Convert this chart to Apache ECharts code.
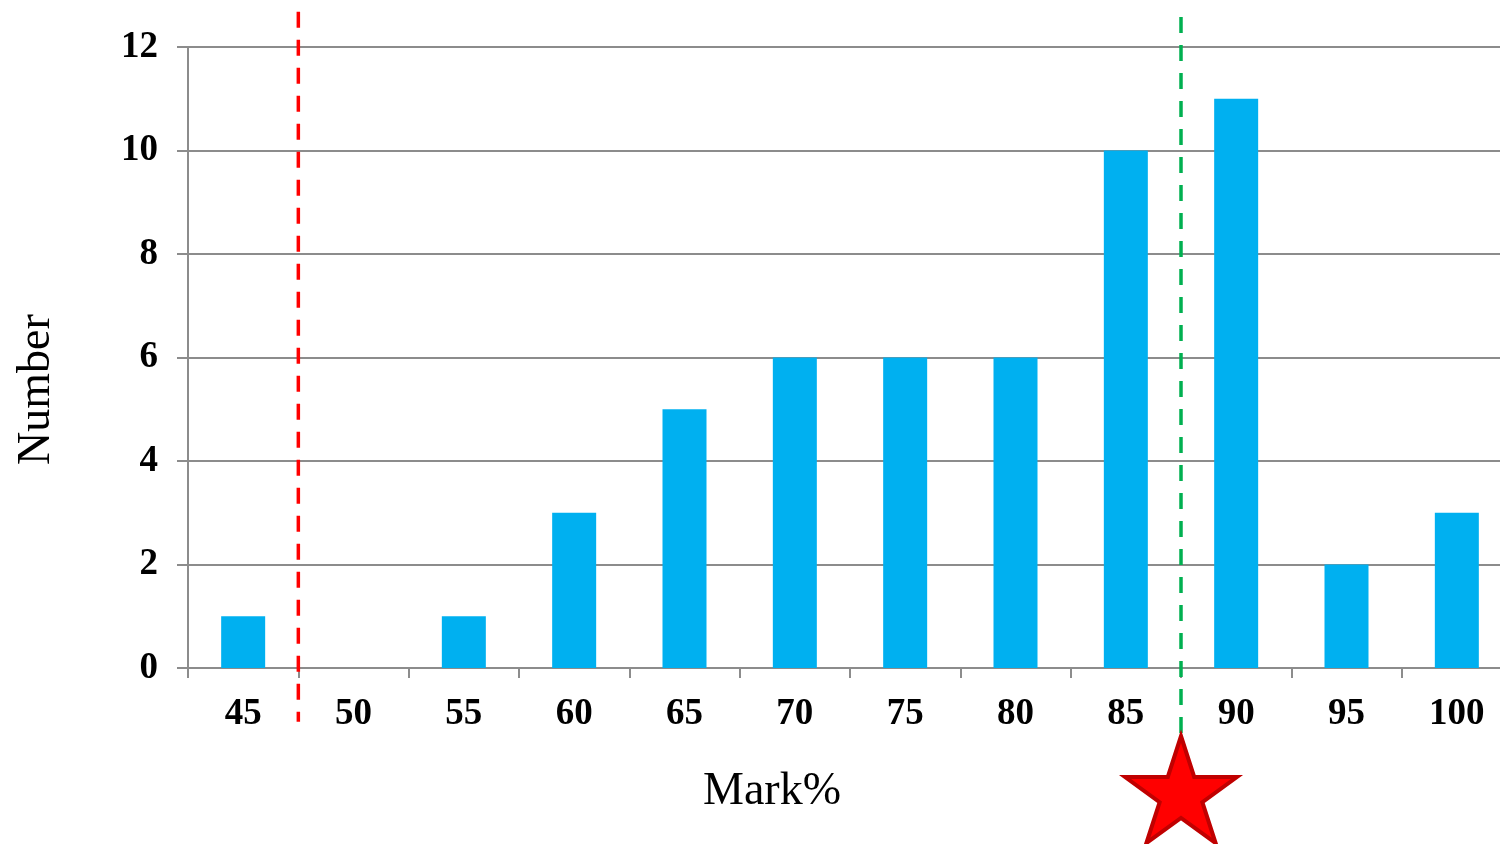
<!DOCTYPE html>
<html>
<head>
<meta charset="utf-8">
<script src="https://cdn.jsdelivr.net/npm/echarts@6/dist/echarts.min.js"></script>
<style>
  html, body { margin: 0; padding: 0; background: #fff; overflow: hidden; }
  #chart { width: 1500px; height: 844px; }
</style>
</head>
<body>
<div id="chart"></div>
<script>
// histogram of marks
const marks = ['45', '50', '55', '60', '65', '70', '75', '80', '85', '90', '95', '100'];
const counts = [1, 0, 1, 3, 5, 6, 6, 6, 10, 11, 2, 3];
const yTicks = [0, 2, 4, 6, 8, 10, 12];

// reference lines on a hidden value axis (category boundaries)
const redLine = [[47.5, 12.68], [47.5, -1.04]];
const greenLine = [[87.5, 12.58], [87.5, -1.29]];
const starPoint = [[87.5, -2.35]];

const STAR = 'path://M0,-1 L0.2245,-0.309 L0.951,-0.309 L0.363,0.118 L0.588,0.809 L0,0.382 L-0.588,0.809 L-0.363,0.118 L-0.951,-0.309 L-0.2245,-0.309 Z';
const FONT = '"Liberation Serif", "Times New Roman", serif';
const GRID_COLOR = '#8c8c8c';

const chart = echarts.init(document.getElementById('chart'));

chart.setOption({
  animation: false,
  // plot runs a little past the right edge, as in the original
  grid: { left: 188, top: 47, bottom: 176, width: 1324, outerBoundsMode: 'none', containLabel: false },
  xAxis: [
    {
      type: 'category',
      data: marks,
      axisLine: { lineStyle: { color: GRID_COLOR, width: 2 } },
      axisTick: { show: true, length: 10, lineStyle: { color: GRID_COLOR, width: 2 } },
      axisLabel: {
        margin: 28, fontFamily: FONT, fontSize: 37, fontWeight: 'bold', color: '#000'
      }
    },
    {
      type: 'value', min: 42.5, max: 102.5, show: false
    }
  ],
  yAxis: {
    type: 'value',
    min: yTicks[0],
    max: yTicks[yTicks.length - 1],
    interval: 2,
    axisLine: { show: true, lineStyle: { color: GRID_COLOR, width: 2 } },
    axisTick: { show: true, length: 11, lineStyle: { color: GRID_COLOR, width: 2 } },
    splitLine: { lineStyle: { color: GRID_COLOR, width: 2 } },
    axisLabel: {
      margin: 30, fontFamily: FONT, fontSize: 37, fontWeight: 'bold', color: '#000'
    }
  },
  graphic: [
    {
      type: 'text', left: 703, top: 769,
      style: { text: 'Mark%', font: '46px ' + FONT, fill: '#000' }
    },
    {
      type: 'text', x: 14, y: 465, rotation: Math.PI / 2,
      style: { text: 'Number', font: '46px ' + FONT, fill: '#000' }
    }
  ],
  series: [
    {
      type: 'bar',
      data: counts,
      barWidth: 44,
      itemStyle: { color: '#00B0F0' }
    },
    {
      type: 'line',
      xAxisIndex: 1,
      data: redLine,
      clip: false,
      symbol: 'none',
      lineStyle: { color: '#FF0000', width: 3.5, type: [16, 12] },
      z: 5
    },
    {
      type: 'line',
      xAxisIndex: 1,
      data: greenLine,
      clip: false,
      symbol: 'none',
      lineStyle: { color: '#00B050', width: 3.5, type: [16, 12] },
      z: 5
    },
    {
      type: 'scatter',
      xAxisIndex: 1,
      data: starPoint,
      clip: false,
      symbol: STAR,
      symbolSize: [112, 107],
      itemStyle: { color: '#FF0000', opacity: 1, borderColor: '#C00000', borderWidth: 4 },
      z: 6
    }
  ]
});
</script>
</body>
</html>
